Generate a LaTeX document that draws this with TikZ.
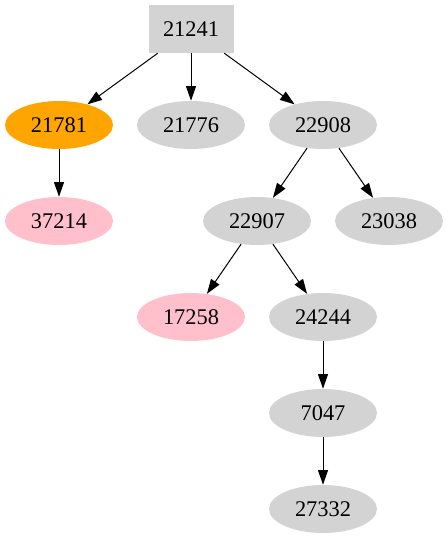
\documentclass[tikz,border=0pt]{standalone}
\usepackage{fontspec}
\setmainfont{Liberation Serif}
\usetikzlibrary{shapes.geometric, arrows.meta, positioning}
\definecolor{nodegray}{HTML}{D3D3D3}
\definecolor{nodeorange}{HTML}{FFA500}
\definecolor{nodepink}{HTML}{FFC0CB}
\tikzset{
  treenode/.style={ellipse, fill=nodegray, inner sep=0pt, minimum width=81pt, minimum height=36pt, font=\fontsize{16.8}{19}\selectfont},
  rootnode/.style={rectangle, fill=nodegray, inner sep=0pt, minimum width=63.75pt, minimum height=36pt, font=\fontsize{16.8}{19}\selectfont},
  treeedge/.style={-{Triangle[length=11pt, width=7.5pt]}, line width=0.75pt}
}
\begin{document}
\begin{tikzpicture}[x=0.75pt, y=-0.75pt]
        \useasboundingbox (0,0) rectangle (447,539);
        % Knoten
        \node[rootnode] (n21241) at (191,29) {21241};
        \node[treenode, fill=nodeorange] (n21781) at (59,125) {21781};
        \node[treenode] (n21776) at (191,125) {21776};
        \node[treenode] (n22908) at (323,125) {22908};
        \node[treenode, fill=nodepink] (n37214) at (59,221) {37214};
        \node[treenode] (n22907) at (257,221) {22907};
        \node[treenode] (n23038) at (389,221) {23038};
        \node[treenode, fill=nodepink] (n17258) at (191,317) {17258};
        \node[treenode] (n24244) at (323,317) {24244};
        \node[treenode] (n7047) at (323,413) {7047};
        \node[treenode] (n27332) at (323,509) {27332};
        % Kanten
        \foreach \from/\to in {n21241/n21781, n21241/n21776, n21241/n22908,
          n21781/n37214, n22908/n22907, n22908/n23038,
          n22907/n17258, n22907/n24244, n24244/n7047, n7047/n27332}{
          \draw[treeedge] (\from) -- (\to);
        }
      \end{tikzpicture}
\end{document}
